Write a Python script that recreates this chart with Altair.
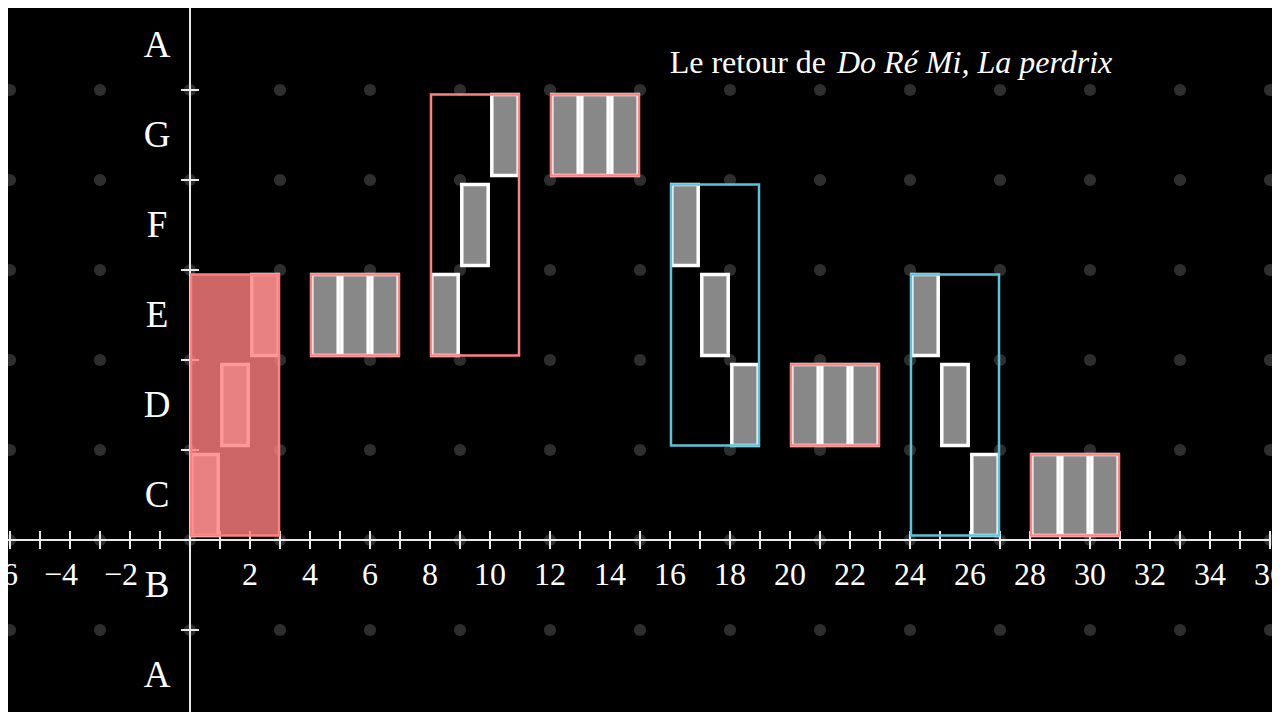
import altair as alt
import pandas as pd

# ---- data -------------------------------------------------------------
pitch_order = ["C", "D", "E", "F", "G", "A"]          # C = 0 ... A = 5
melody_times = [0, 1, 2, 4, 5, 6, 8, 9, 10, 12, 13, 14,
                16, 17, 18, 20, 21, 22, 24, 25, 26, 28, 29, 30]
melody_notes = ["C", "D", "E", "E", "E", "E", "E", "F", "G", "G", "G", "G",
                "F", "E", "D", "D", "D", "D", "E", "D", "C", "C", "C", "C"]
group_starts = [0, 4, 8, 12, 16, 20, 24, 28]
group_kind = ["montée", "répétée", "montée", "répétée",
              "descente", "répétée", "descente", "répétée"]
highlighted_group = 0

y_label_names = ["A", "B", "C", "D", "E", "F", "G", "A"]
y_label_index = [-2, -1, 0, 1, 2, 3, 4, 5]
x_label_values = [-6, -4, -2, 2, 4, 6, 8, 10, 12, 14, 16, 18, 20, 22,
                  24, 26, 28, 30, 32, 34, 36]
x_ticks = list(range(-6, 37))
y_ticks = list(range(-2, 7))
dot_x = list(range(-6, 37, 3))
dot_y = list(range(-2, 7))

title_plain = "Le retour de"
title_italic = "Do Ré Mi, La perdrix"

# ---- layout -----------------------------------------------------------
W, H = 1264, 704
PX_X, PX_Y = 30.0, 90.0
x_min = -6 - 2 / PX_X
x_max = x_min + W / PX_X
y_max = 532 / PX_Y
y_min = y_max - H / PX_Y

xs = alt.Scale(domain=[x_min, x_max], nice=False, zero=False)
ys = alt.Scale(domain=[y_min, y_max], nice=False, zero=False)

RED = "#FF8080"
BLUE = "#58C4DD"
FONT = "Liberation Serif"

# ---- tables -----------------------------------------------------------
pidx = {n: i for i, n in enumerate(pitch_order)}
notes = pd.DataFrame({"t": melody_times, "note": melody_notes})
notes["p"] = notes["note"].map(pidx)
notes["x"] = notes["t"] + 0.06
notes["x2"] = notes["t"] + 0.94
notes["y"] = notes["p"] + 0.05
notes["y2"] = notes["p"] + 0.95

rows = []
for g, (s, k) in enumerate(zip(group_starts, group_kind)):
    sub = notes[(notes["t"] >= s) & (notes["t"] < s + 3)]
    rows.append({"g": g, "kind": k,
                 "x": s + 0.033, "x2": s + 2.967,
                 "y": sub["p"].min() + 0.05, "y2": sub["p"].max() + 0.95,
                 "hl": g == highlighted_group})
groups = pd.DataFrame(rows)

dots = pd.DataFrame([{"x": a, "y": b} for a in dot_x for b in dot_y])
xt = pd.DataFrame({"x": x_ticks, "y": -0.1, "y2": 0.1})
yt = pd.DataFrame({"y": y_ticks, "x": -0.3, "x2": 0.3})
xl = pd.DataFrame({"x": x_label_values, "y": 0.0,
                   "label": [("\u2212" + str(-v)) if v < 0 else str(v) for v in x_label_values]})
yl = pd.DataFrame({"label": y_label_names, "y": [i + 0.5 for i in y_label_index], "x": 0.0})
xaxis = pd.DataFrame({"x": [x_min], "x2": [36], "y": [0.0]})
yaxis = pd.DataFrame({"x": [0.0], "y": [y_min], "y2": [y_max]})

X = lambda f="x": alt.X(f"{f}:Q", scale=xs, axis=None)
Y = lambda f="y": alt.Y(f"{f}:Q", scale=ys, axis=None)

dots_l = alt.Chart(dots).mark_circle(size=150, color="#2e2e2e", opacity=1).encode(x=X(), y=Y())

xaxis_l = alt.Chart(xaxis).mark_rule(color="#e8e8e8", strokeWidth=2).encode(x=X(), x2="x2:Q", y=Y())
yaxis_l = alt.Chart(yaxis).mark_rule(color="#e8e8e8", strokeWidth=2).encode(x=X(), y=Y(), y2="y2:Q")
xt_l = alt.Chart(xt).mark_rule(color="#e8e8e8", strokeWidth=2).encode(x=X(), y=Y(), y2="y2:Q")
yt_l = alt.Chart(yt).mark_rule(color="#e8e8e8", strokeWidth=2).encode(x=X(), x2="x2:Q", y=Y())

notes_l = alt.Chart(notes).mark_rect(fill="#888888", stroke="white", strokeWidth=3.5).encode(
    x=X(), x2="x2:Q", y=Y(), y2="y2:Q")

grp_fill = alt.Chart(groups).transform_filter("datum.hl").mark_rect(
    fill=RED, fillOpacity=0.8, strokeOpacity=0).encode(x=X(), x2="x2:Q", y=Y(), y2="y2:Q")
grp_l = alt.Chart(groups).mark_rect(filled=False, strokeWidth=2.5).encode(
    x=X(), x2="x2:Q", y=Y(), y2="y2:Q",
    stroke=alt.Stroke("kind:N", scale=alt.Scale(domain=["montée", "répétée", "descente"],
                                                range=[RED, RED, BLUE]), legend=None))

xl_pos = alt.Chart(xl).transform_filter("datum.x > 0").mark_text(
    font=FONT, fontSize=32, color="white", align="center", baseline="alphabetic", dy=45
).encode(x=X(), y=Y(), text="label:N")
xl_neg = alt.Chart(xl).transform_filter("datum.x < 0").mark_text(
    font=FONT, fontSize=32, color="white", align="right", baseline="alphabetic", dy=45, dx=8
).encode(x=X(), y=Y(), text="label:N")
yl_l = alt.Chart(yl).mark_text(
    font=FONT, fontSize=37, color="white", align="center", baseline="alphabetic", dx=-33, dy=12
).encode(x=X(), y=Y(), text="label:N")

t1 = alt.Chart(pd.DataFrame({"t": [title_plain]})).mark_text(
    font=FONT, fontSize=32, color="white", align="right", baseline="alphabetic"
).encode(x=alt.value(818), y=alt.value(65), text="t:N")
t2 = alt.Chart(pd.DataFrame({"t": [title_italic]})).mark_text(
    font=FONT, fontSize=32, fontStyle="italic", color="white", align="left", baseline="alphabetic"
).encode(x=alt.value(829), y=alt.value(65), text="t:N")

chart = alt.layer(
    dots_l, xaxis_l, yaxis_l, xt_l, yt_l, notes_l, grp_fill, grp_l,
    xl_pos, xl_neg, yl_l, t1, t2
).properties(
    width=W, height=H, padding=0, autosize=alt.AutoSizeParams(type="none")
).configure(background="black").configure_view(stroke=None)

chart.save("out.html", embed_options={"renderer": "svg", "actions": False})
